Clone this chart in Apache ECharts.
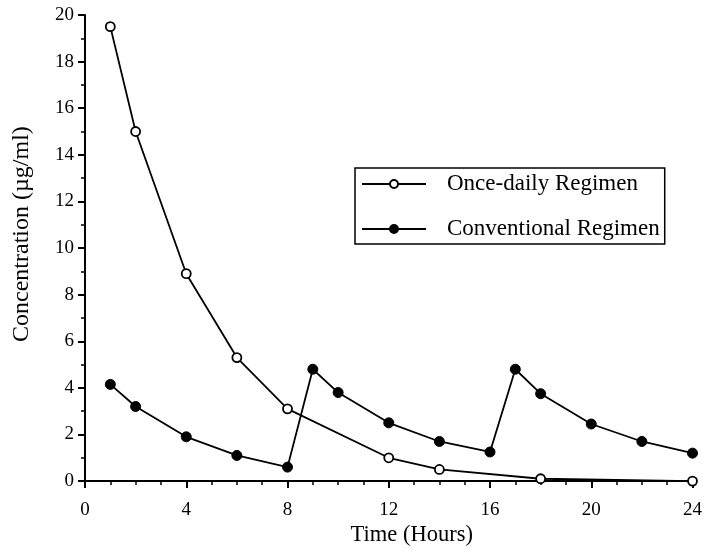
<!DOCTYPE html>
<html>
<head>
<meta charset="utf-8">
<script src="https://cdn.jsdelivr.net/npm/echarts@6/dist/echarts.min.js"></script>
<style>html,body{margin:0;padding:0;background:#fff;}#c{width:705px;height:552px;}</style>
</head>
<body>
<div id="c"></div>
<script>
var onceHours = [1, 2, 4, 6, 8, 12, 14, 18, 24];
var onceValues = [19.5, 15.0, 8.9, 5.3, 3.1, 1.0, 0.5, 0.1, 0.0];
var convHours = [1, 2, 4, 6, 8, 9, 10, 12, 14, 16, 17, 18, 20, 22, 24];
var convValues = [4.15, 3.2, 1.9, 1.1, 0.6, 4.8, 3.8, 2.5, 1.7, 1.25, 4.8, 3.75, 2.45, 1.7, 1.2];
var seriesNames = ['Once-daily Regimen', 'Conventional Regimen'];
var xTitle = 'Time (Hours)';
var yTitle = 'Concentration (µg/ml)';

function pairs(xs, ys) { return xs.map(function (x, i) { return [x, ys[i]]; }); }

var font = '"Liberation Serif", "Times New Roman", serif';
var chart = echarts.init(document.getElementById('c'), null, { renderer: 'canvas' });
chart.setOption({
  animation: false,
  backgroundColor: '#fff',
  grid: { left: 85, right: 8, top: 15, bottom: 69, containLabel: false },
  xAxis: {
    type: 'value', min: 0, max: 24, interval: 4,
    name: xTitle, nameLocation: 'middle', nameGap: 42,
    nameTextStyle: { fontFamily: font, fontSize: 22.5, color: '#000', padding: [0, 0, 0, 46] },
    axisLine: { onZero: false, lineStyle: { color: '#000', width: 2 } },
    axisTick: { length: 7, lineStyle: { color: '#000', width: 2 } },
    minorTick: { show: true, splitNumber: 4, length: 4, lineStyle: { color: '#000', width: 1.5 } },
    splitLine: { show: false },
    axisLabel: { fontFamily: font, fontSize: 19, color: '#000', margin: 19 }
  },
  yAxis: {
    type: 'value', min: 0, max: 20, interval: 2,
    name: yTitle, nameLocation: 'middle', nameGap: 51,
    nameTextStyle: { fontFamily: font, fontSize: 24, color: '#000', padding: [0, 0, 0, 28] },
    axisLine: { show: true, lineStyle: { color: '#000', width: 2 } },
    axisTick: { show: true, length: 7, lineStyle: { color: '#000', width: 2 } },
    minorTick: { show: true, splitNumber: 2, length: 4, lineStyle: { color: '#000', width: 1.5 } },
    splitLine: { show: false },
    axisLabel: { fontFamily: font, fontSize: 19, color: '#000', margin: 11 }
  },
  legend: {
    orient: 'vertical', left: 355, top: 168,
    borderColor: '#000', borderWidth: 1.5, borderRadius: 0,
    padding: [4, 5, 3, 6], itemGap: 21,
    itemWidth: 64, itemHeight: 10,
    textStyle: { fontFamily: font, fontSize: 23, color: '#000', lineHeight: 24, padding: [0, 0, 0, 16] },
    data: seriesNames
  },
  series: [
    {
      name: seriesNames[0], type: 'line', data: pairs(onceHours, onceValues),
      symbol: 'circle', symbolSize: 9,
      lineStyle: { color: '#000', width: 1.8 },
      itemStyle: { color: '#fff', borderColor: '#000', borderWidth: 1.8 },
      z: 3
    },
    {
      name: seriesNames[1], type: 'line', data: pairs(convHours, convValues),
      symbol: 'circle', symbolSize: 10,
      lineStyle: { color: '#000', width: 1.8 },
      itemStyle: { color: '#000', borderColor: '#000', borderWidth: 1 },
      z: 2
    }
  ]
});
</script>
</body>
</html>
